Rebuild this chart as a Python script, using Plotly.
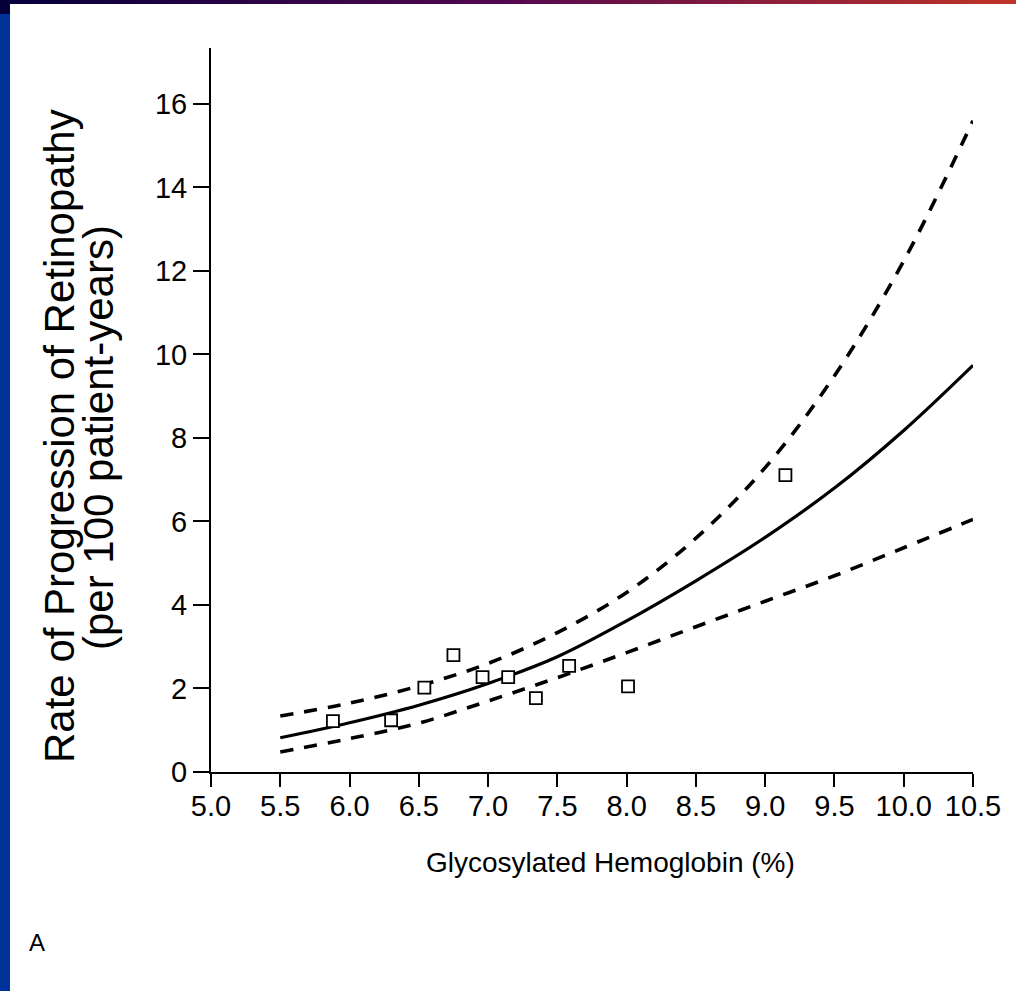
import plotly.graph_objects as go

# Observed rates by glycosylated hemoglobin level
hba1c_obs = [5.88, 6.30, 6.54, 6.75, 6.96, 7.145, 7.345, 7.585, 8.01, 9.146]
rate_obs = [1.22, 1.24, 2.02, 2.80, 2.27, 2.27, 1.77, 2.54, 2.05, 7.11]

# Fitted curve and confidence band
hba1c_fit = [5.5, 6.0, 6.5, 7.0, 7.5, 8.0, 8.5, 9.0, 9.5, 10.0, 10.5]
rate_fit = [0.82, 1.18, 1.60, 2.12, 2.76, 3.62, 4.58, 5.62, 6.80, 8.18, 9.74]
rate_upper = [1.34, 1.65, 2.06, 2.60, 3.34, 4.30, 5.60, 7.29, 9.49, 12.24, 15.6]
rate_lower = [0.48, 0.80, 1.17, 1.70, 2.26, 2.86, 3.48, 4.09, 4.70, 5.37, 6.05]

x_ticks = [5.0, 5.5, 6.0, 6.5, 7.0, 7.5, 8.0, 8.5, 9.0, 9.5, 10.0, 10.5]
x_tick_text = ["5.0", "5.5", "6.0", "6.5", "7.0", "7.5", "8.0", "8.5", "9.0", "9.5", "10.0", "10.5"]
y_ticks = [0, 2, 4, 6, 8, 10, 12, 14, 16]

y_title_lines = ["Rate of Progression of Retinopathy", "(per 100 patient-years)"]
x_title = "Glycosylated Hemoglobin (%)"
panel_label = "A"

W, H = 1016, 991
ML, MR, MT, MB = 211, 43, 48, 219
PW, PH = W - ML - MR, H - MT - MB
FONT = "Liberation Sans, Arial, sans-serif"


def px(x):
    return (x - ML) / PW


def py(y):
    return (H - MB - y) / PH


fig = go.Figure()

dash = "13px,11px"
fig.add_trace(go.Scatter(x=hba1c_fit, y=rate_upper, mode="lines",
                         line=dict(color="black", width=3.6, dash=dash, shape="spline"),
                         hoverinfo="skip"))
fig.add_trace(go.Scatter(x=hba1c_fit, y=rate_lower, mode="lines",
                         line=dict(color="black", width=3.6, dash=dash, shape="spline"),
                         hoverinfo="skip"))
fig.add_trace(go.Scatter(x=hba1c_fit, y=rate_fit, mode="lines",
                         line=dict(color="black", width=3.2, shape="spline"),
                         hoverinfo="skip"))
fig.add_trace(go.Scatter(x=hba1c_obs, y=rate_obs, mode="markers",
                         marker=dict(symbol="square", size=12, color="white",
                                     line=dict(color="black", width=1.8))))

shapes = []
# Gradient bar along the top edge
c0 = (5, 0, 60)
c1 = (85, 8, 80)
c2 = (190, 52, 40)
steps = 60
for i in range(steps):
    t = i / (steps - 1)
    if t < 0.5:
        u = t / 0.5
        c = tuple(int(c0[k] + (c1[k] - c0[k]) * u) for k in range(3))
    else:
        u = (t - 0.5) / 0.5
        c = tuple(int(c1[k] + (c2[k] - c1[k]) * u) for k in range(3))
    x0 = i * W / steps
    x1 = (i + 1) * W / steps + 1
    shapes.append(dict(type="rect", xref="paper", yref="paper",
                       x0=px(x0), x1=px(x1), y0=py(4), y1=py(0),
                       fillcolor="rgb(%d,%d,%d)" % c, line=dict(width=0), layer="above"))
# Left edge bar
shapes.append(dict(type="rect", xref="paper", yref="paper",
                   x0=px(0), x1=px(10), y0=py(H), y1=py(14),
                   fillcolor="rgb(0,51,153)", line=dict(width=0)))
shapes.append(dict(type="rect", xref="paper", yref="paper",
                   x0=px(0), x1=px(10), y0=py(14), y1=py(0),
                   fillcolor="rgb(5,0,60)", line=dict(width=0)))

annotations = [
    dict(text=y_title_lines[0], xref="paper", yref="paper", x=px(59), y=py(436),
         textangle=-90, showarrow=False,
         font=dict(family=FONT, size=42, color="black"),
         xanchor="center", yanchor="middle"),
    dict(text=y_title_lines[1], xref="paper", yref="paper", x=px(98), y=py(438),
         textangle=-90, showarrow=False,
         font=dict(family=FONT, size=42, color="black"),
         xanchor="center", yanchor="middle"),
    dict(text=x_title, xref="paper", yref="paper",
         x=px(610), y=py(862), showarrow=False,
         font=dict(family=FONT, size=28, color="black"),
         xanchor="center", yanchor="middle"),
    dict(text=panel_label, xref="paper", yref="paper", x=px(37), y=py(942),
         showarrow=False, font=dict(family=FONT, size=24, color="black"),
         xanchor="center", yanchor="middle"),
]

fig.update_layout(
    width=W, height=H,
    margin=dict(l=ML, r=MR, t=MT, b=MB),
    paper_bgcolor="white", plot_bgcolor="white",
    showlegend=False,
    shapes=shapes,
    annotations=annotations,
    font=dict(family=FONT, color="black"),
    xaxis=dict(range=[5.0, 10.5], tickvals=x_ticks, ticktext=x_tick_text,
               showgrid=False, zeroline=False, showline=True, linecolor="black",
               linewidth=2, ticks="outside", ticklen=13, tickwidth=2,
               tickcolor="black", tickfont=dict(family=FONT, size=29),
               ticklabelstandoff=-6),
    yaxis=dict(range=[0, 17.34], tickvals=y_ticks, showgrid=False, zeroline=False,
               showline=True, linecolor="black", linewidth=2, ticks="outside",
               ticklen=16, tickwidth=2, tickcolor="black",
               tickfont=dict(family=FONT, size=29)),
)

fig.write_html("out.html")
